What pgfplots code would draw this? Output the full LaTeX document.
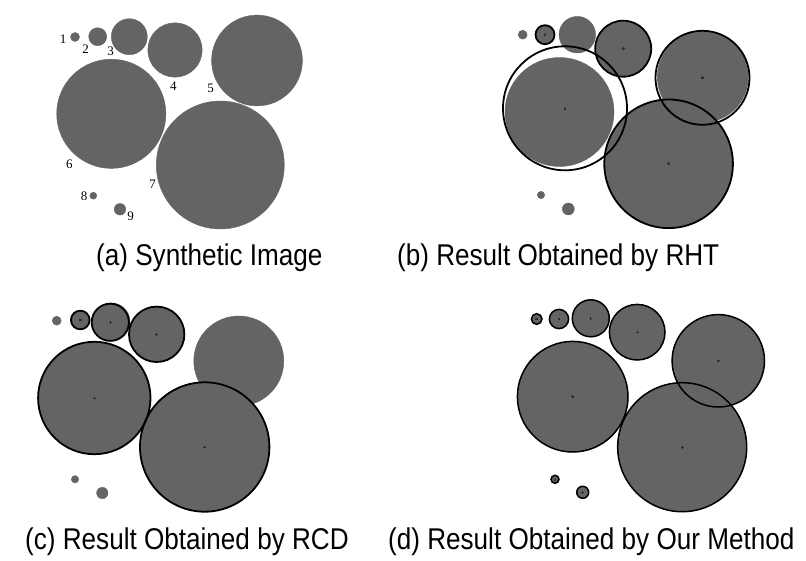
\documentclass[border=0pt]{standalone}
\usepackage{fontspec}
\setmainfont{Liberation Sans}
\newfontfamily\capfont{Liberation Sans}[FakeStretch=0.87]
\newfontfamily\seriffont{Liberation Serif}
\usepackage{pgfplots}
\usepackage{pgfplotstable}
\pgfplotsset{compat=1.18}
\definecolor{fillg}{RGB}{100,100,100}
\definecolor{dotg}{RGB}{45,45,45}

% panel (a): synthetic image
\pgfplotstableread{
x y r
75 37 4.5
97.7 36.7 9
129.3 36.7 18
175 50 27.2
257 60.5 45.4
111.3 113.8 54.6
220.3 165 64
93.3 195.7 3.5
120 209.3 5.8
}\fillA
% panel (b): RHT
\pgfplotstableread{
x y r
522.7 34.7 4.5
545 34.7 9
577.3 34.7 18.3
623.2 48.7 27.3
702.8 77 45.5
559.5 112 54.5
668.8 163.8 64
541 195 3.7
568.3 209 6
}\fillB
\pgfplotstableread{
x y r
545 34.7 9.5
623.2 48.7 28
702.5 77.8 47
565 108.3 62
668.6 163.8 64.3
}\ringB
% panel (c): RCD
\pgfplotstableread{
x y r
56.7 320.7 4.5
80 320 9.5
111.2 321.7 18.8
156.7 334.5 27.7
238.8 361 45
94.5 397.8 56
204.3 446.7 64.5
75 479.3 3.7
102.3 493 5.7
}\fillC
\pgfplotstableread{
x y r
80.3 320 9.3
110.3 322.3 18.6
156.7 334.3 27.7
94.3 398 56.2
204.7 447 64.7
}\ringC
% panel (d): our method
\pgfplotstableread{
x y r
536.7 319 5.3
559 319 9.6
590.8 318.3 18.5
637.2 332.2 27.8
718.3 360.8 46.2
572.7 396.7 55.3
682.2 447.2 64.5
555 479.3 4
582.7 492.3 6
}\fillD

\pgfplotsset{
  filled/.style={scatter, only marks, mark=*,
    scatter/use mapped color={draw=fillg, fill=fillg, line width=0.4pt},
    visualization depends on={\thisrow{r}\as\rr},
    scatter/@pre marker code/.append style={/tikz/mark size=\rr}},
  ring/.style={scatter, only marks, mark=o,
    scatter/use mapped color={draw=black, line width=#1},
    visualization depends on={\thisrow{r}\as\rr},
    scatter/@pre marker code/.append style={/tikz/mark size=\rr}},
  ring/.default=1.8pt,
  cdot/.style={only marks, mark=*, mark size=0.8pt, mark options={draw=dotg, fill=dotg, line width=0pt}},
}

\begin{document}
\begin{tikzpicture}
\begin{axis}[x=1pt, y=1pt, y dir=reverse, xmin=0, xmax=806, ymin=0, ymax=561,
  hide axis, clip=false]
\addplot[draw=none, mark=none] coordinates {(0,0) (806,561)};
% (a)
\addplot[filled] table {\fillA};
% (b)
\addplot[filled] table {\fillB};
\addplot[ring=1.8pt] table {\ringB};
\addplot[cdot] table {\ringB};
% (c)
\addplot[filled] table {\fillC};
\addplot[ring=1.8pt] table {\ringC};
\addplot[cdot] table {\ringC};
% (d)
\addplot[filled] table {\fillD};
\addplot[ring=1.5pt] table {\fillD};
\addplot[cdot] table {\fillD};
% labels of (a)
\begin{scope}[every node/.style={font=\seriffont\fontsize{13}{15}\selectfont, inner sep=0pt}]
\node at (axis cs:63,39) {1};
\node at (axis cs:85.5,49) {2};
\node at (axis cs:110.5,51.5) {3};
\node at (axis cs:173.3,86) {4};
\node at (axis cs:210.7,88.3) {5};
\node at (axis cs:69.3,164) {6};
\node at (axis cs:152.7,184) {7};
\node at (axis cs:84,196) {8};
\node at (axis cs:130.7,216.7) {9};
\end{scope}
% captions
\begin{scope}[every node/.style={font=\capfont\fontsize{30}{34}\selectfont, inner sep=0pt, anchor=base west}]
\node at (axis cs:96,266) {(a) Synthetic Image};
\node at (axis cs:397,266) {(b) Result Obtained by RHT};
\node at (axis cs:25,549) {(c) Result Obtained by RCD};
\node at (axis cs:388,549) {(d) Result Obtained by Our Method};
\end{scope}
\end{axis}
\end{tikzpicture}
\end{document}
